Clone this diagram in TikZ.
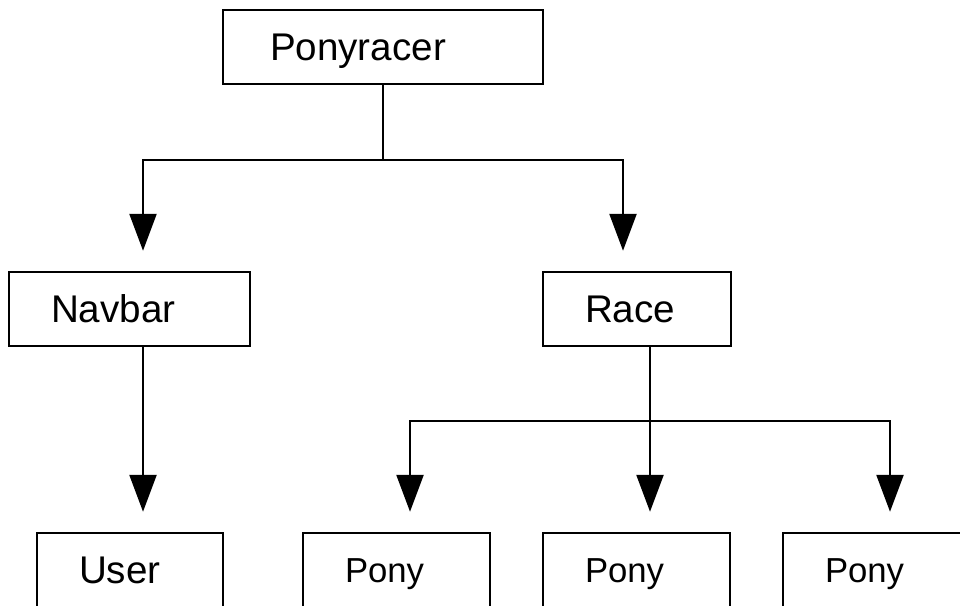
\documentclass[tikz,border=0pt]{standalone}
\usepackage{fontspec}
\setmainfont{Liberation Sans}
\usetikzlibrary{arrows.meta}
\begin{document}
\begin{tikzpicture}[x=1pt,y=-1pt,
  box/.style={draw, line width=2.5pt, minimum height=74pt, inner xsep=42pt, inner ysep=0pt, align=left, text height=27.6pt, text depth=0pt, font=\fontsize{38.6pt}{46pt}\selectfont},
  smallbox/.style={box, text height=24.8pt, font=\fontsize{34.7pt}{42pt}\selectfont},
  conn/.style={line width=2.5pt},
  arr/.style={conn, -{Triangle[width=27pt,length=37pt]}, shorten >=20pt}]
\useasboundingbox (0,0) rectangle (960,605);
\clip (0,0) rectangle (960,605);
\node[box, minimum width=320pt, text width=226pt, inner xsep=47pt] (pr) at (383,47) {Ponyracer};
\node[box, minimum width=241pt, text width=157pt] (nav) at (129.5,309) {Navbar};
\node[box, minimum width=188pt, text width=104pt] (race) at (637,309) {Race};
\node[box, minimum width=186pt, text width=102pt] (user) at (130,570) {User};
\node[smallbox, minimum width=187pt, text width=103pt] (p1) at (396.5,570) {Pony};
\node[smallbox, minimum width=187pt, text width=103pt] (p2) at (636.5,570) {Pony};
\node[smallbox, minimum width=187pt, text width=103pt] (p3) at (876.5,570) {Pony};
\coordinate (j1) at (383,160);
\coordinate (j2) at (650,421);
\draw[conn] (pr.south) -- (j1);
\draw[arr] (j1) -| ([xshift=13.5pt]nav.north);
\draw[arr] (j1) -| ([xshift=-14pt]race.north);
\draw[arr] ([xshift=13.5pt]nav.south) -- ([xshift=13pt]user.north);
\draw[conn] ([xshift=13pt]race.south) -- (j2);
\draw[arr] (j2) -| ([xshift=13.5pt]p1.north);
\draw[arr] (j2) -- ([xshift=13.5pt]p2.north);
\draw[arr] (j2) -| ([xshift=13.5pt]p3.north);
\end{tikzpicture}
\end{document}
